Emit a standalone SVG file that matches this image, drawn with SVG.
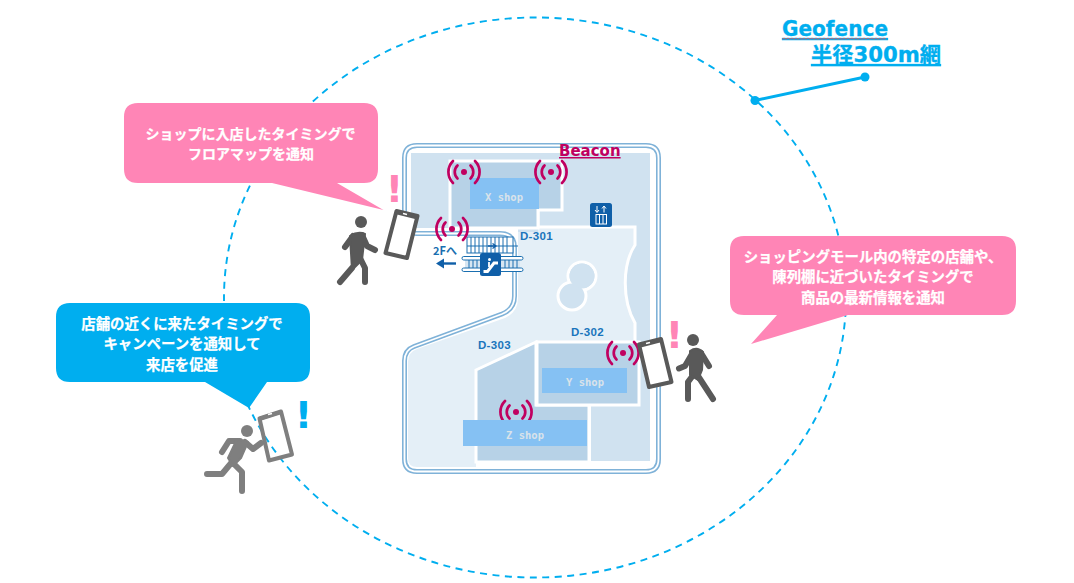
<svg xmlns="http://www.w3.org/2000/svg" width="1074" height="583" viewBox="0 0 1074 583">
  <style>
    .jp { font-family: "Noto Sans CJK JP", "Noto Sans", sans-serif; font-weight: 700; fill: #fff; stroke: #fff; stroke-width: .25px; font-size: 14px; text-anchor: middle; }
    .wide { font-size: 14.4px; }
    .pink { fill: #ff85b6; }
    .blue { fill: #00aeef; }
    .bang { font-family: "DejaVu Sans", sans-serif; font-weight: 700; font-size: 38px; text-anchor: middle; }
    .shopbox { fill: #85c1f3; }
    .shoptxt { font-family: "DejaVu Sans Mono", monospace; font-size: 10.5px; font-weight: 700; fill: #d9e3ea; text-anchor: middle; }
    .room { font-family: "Liberation Sans", sans-serif; font-size: 11.5px; font-weight: 700; fill: #1a75bc; letter-spacing: .3px; }
    .wall { fill: none; stroke: #fff; stroke-width: 3; }
    .bld { fill: #b7d2e7; stroke: #fff; stroke-width: 3; }
    .sig { fill: none; stroke: #c00060; stroke-width: 2.7; stroke-linecap: round; }
    .limb { fill: none; stroke-linecap: round; stroke-linejoin: round; stroke-width: 6; }
    .dark { stroke: #595959; }
    .grey { stroke: #7f7f7f; }
    .esc { fill: none; stroke: #1a6fb0; stroke-width: 1; }
    .icon { fill: #0f5fa8; }
    .outline { stroke-linejoin: round; }
  </style>
  <defs>
    <g id="signal">
      <circle r="3" fill="#c00060"/>
      <path class="sig" d="M-6.500-6.500A9 9 0 0 0-6.500 6.500M6.500-6.500A9 9 0 0 1 6.500 6.500"/>
      <path class="sig" d="M-11-11A15.500 15.500 0 0 0-11 11M11-11A15.500 15.500 0 0 1 11 11"/>
    </g>
    <path id="map-shape" d="M417 145.500H646Q658.500 145.500 658.500 158V459Q658.500 471.500 646 471.500H417Q404.500 471.500 404.500 459V361Q404.500 350 414 346.500L502 314Q514.500 309 514.500 296V248Q514.500 233.500 500 233.500H417Q404.500 233.500 404.500 221V158Q404.500 145.500 417 145.500Z"/>
  </defs>

  <g id="geofence-circle">
    <ellipse cx="535" cy="297.500" rx="311" ry="280" fill="none" stroke="#00aeef" stroke-width="1.900" stroke-dasharray="7 5.500"/>
  </g>

  <g id="floor-map">
    <use href="#map-shape" fill="#fff" stroke="#7fb2d8" stroke-width="5"/>
    <use href="#map-shape" fill="none" stroke="#fff" stroke-width="1.800"/>
    <path d="M411 153H650V461H518V228H411Z" fill="#d0e2f0"/>
    <path d="M538 227H635V245C622 265 622 300 635 323V342H536L476 370V467H417Q408 467 408 458V362Q408 352 417 349L505 318Q518 312 518 298V232H538Z" fill="#e4eff7"/>
    <path class="wall" d="M538 210V227H635V245C622 265 622 300 635 323V342"/>
    <path class="bld" d="M450 161H562V210H538V228H450Z"/>
    <path class="bld" d="M476 370L536 342V405H589V462H476Z"/>
    <rect class="bld" x="537" y="342" width="102" height="63"/>
    <path class="wall" d="M589.500 405V462M476 462.500H650"/>
    <circle cx="582" cy="276" r="14" fill="#d0e2f0" stroke="#fff" stroke-width="3"/>
    <circle cx="572" cy="296" r="14" fill="#d0e2f0" stroke="#fff" stroke-width="3"/>
    <circle cx="582" cy="276" r="12.500" fill="#d0e2f0"/>

    <g id="shop-x">
      <rect class="shopbox" x="470" y="178" width="69" height="31"/>
      <text class="shoptxt" x="504" y="200.500">X shop</text>
    </g>
    <g id="shop-y">
      <rect class="shopbox" x="542" y="368" width="85" height="25"/>
      <text class="shoptxt" x="585" y="386">Y shop</text>
    </g>
    <use href="#signal" x="516" y="412"/>
    <g id="shop-z">
      <rect class="shopbox" x="463" y="420" width="124" height="26"/>
      <text class="shoptxt" x="525" y="439">Z shop</text>
    </g>

    <text class="room" x="520" y="240">D-301</text>
    <text class="room" x="571" y="336">D-302</text>
    <text class="room" x="478" y="349">D-303</text>

    <g id="elevator">
      <rect class="icon" x="590" y="203" width="22" height="24" rx="2.500"/>
      <path d="M597 206V212M595 210L597 212.500L599 210M604 212.500V206.500M602 208.500L604 206L606 208.500" fill="none" stroke="#fff" stroke-width="1"/>
      <rect x="596" y="214.500" width="10.500" height="9.500" fill="none" stroke="#fff" stroke-width="1"/>
      <path d="M599.500 215V224M603 215V224" stroke="#fff" stroke-width="1"/>
    </g>

    <g id="escalator">
      <rect x="467" y="237" width="46" height="16" fill="#fff" stroke="#1a6fb0"/>
      <path class="esc" d="M471 237V253M475 237V253M479 237V253M483 237V253M487 237V253M491 237V253M495 237V253M499 237V253M503 237V253M507 237V253M467 246H518"/>
      <path d="M488 246H495M492.500 243.500L496 246L492.500 248.500" fill="none" stroke="#0f5fa8" stroke-width="1.300"/>
      <rect x="465" y="260" width="55" height="8" fill="#d7e6f2"/>
      <path class="esc" d="M469 260V268M473 260V268M477 260V268M505 260V268M509 260V268M513 260V268M517 260V268"/>
      <rect x="462" y="256.500" width="61" height="3.500" rx="1.700" fill="#fff" stroke="#1a6fb0"/>
      <rect x="462" y="268" width="61" height="3.500" rx="1.700" fill="#fff" stroke="#1a6fb0"/>
      <rect class="icon" x="480" y="253" width="21" height="23" rx="2.500"/>
      <path d="M483.500 271.500H487.500L494 263H498" fill="none" stroke="#fff" stroke-width="3"/>
      <circle cx="489.500" cy="259.500" r="1.500" fill="#fff"/>
      <path d="M489 262V267" stroke="#fff" stroke-width="1.800"/>
    </g>

    <g id="upstairs-sign">
      <text x="433" y="255" font-family="'Noto Sans CJK JP', sans-serif" font-size="11" font-weight="700" fill="#1a6fb0">2Fへ</text>
      <path d="M456 263.500H443" stroke="#0f5fa8" stroke-width="2.400"/>
      <path d="M436 263.500L444 258.500V268.500Z" fill="#0f5fa8"/>
    </g>

    <g id="beacons">
      <use href="#signal" x="464" y="172"/>
      <use href="#signal" x="551" y="172"/>
      <use href="#signal" x="452" y="229"/>
      <use href="#signal" x="623" y="353"/>
    </g>
    <text id="beacon-label" x="559" y="156" font-family="'DejaVu Sans', sans-serif" font-size="15" font-weight="700" fill="#c00060" text-decoration="underline">Beacon</text>
  </g>

  <g id="connectors">
    <line x1="755" y1="100.500" x2="865" y2="77" stroke="#00aeef" stroke-width="3"/>
    <circle cx="755" cy="100.500" r="4.500" fill="#00aeef"/>
    <circle cx="865" cy="77" r="4.500" fill="#00aeef"/>
  </g>

  <g id="geofence-label">
    <text x="782" y="36" font-family="'DejaVu Sans', sans-serif" font-size="20.500" font-weight="700" fill="#00aeef" stroke="#00aeef" stroke-width=".3" text-decoration="underline" textLength="106" lengthAdjust="spacingAndGlyphs">Geofence</text>
    <path d="M782 39.500l2 -1.500l2 1.500l2 -1.500l2 1.500l2 -1.500l2 1.500l2 -1.500l2 1.500l2 -1.500l2 1.500l2 -1.500l2 1.500l2 -1.500l2 1.500l2 -1.500l2 1.500l2 -1.500l2 1.500l2 -1.500l2 1.500l2 -1.500l2 1.500l2 -1.500l2 1.500l2 -1.500l2 1.500l2 -1.500l2 1.500l2 -1.500l2 1.500l2 -1.500l2 1.500l2 -1.500l2 1.500l2 -1.500l2 1.500l2 -1.500l2 1.500l2 -1.500l2 1.500l2 -1.500l2 1.500l2 -1.500l2 1.500l2 -1.500l2 1.500l2 -1.500l2 1.500l2 -1.500l2 1.500l2 -1.500l2 1.500" fill="none" stroke="#f05050" stroke-width=".8"/>
    <text x="811" y="62" font-family="'DejaVu Sans', 'Noto Sans CJK JP', sans-serif" font-size="21" font-weight="700" fill="#00aeef" stroke="#00aeef" stroke-width=".3" text-decoration="underline" textLength="130" lengthAdjust="spacingAndGlyphs">半径300m網</text>
  </g>

  <g id="bubble-floor-map">
    <path class="pink" d="M138 103H364Q378 103 378 117V169Q378 183 364 183H337L383.500 210L272 183H138Q124 183 124 169V117Q124 103 138 103Z"/>
    <text class="jp" x="250.500" y="139">ショップに入店したタイミングで</text>
    <text class="jp" x="251" y="159">フロアマップを通知</text>
  </g>

  <g id="bubble-campaign">
    <path class="blue" d="M70 303H296Q310 303 310 317V368Q310 382 296 382H267L249 408L205 382H70Q56 382 56 368V317Q56 303 70 303Z"/>
    <text class="jp wide" x="182" y="329">店舗の近くに来たタイミングで</text>
    <text class="jp wide" x="182" y="349">キャンペーンを通知して</text>
    <text class="jp wide" x="182" y="370">来店を促進</text>
  </g>

  <g id="bubble-product">
    <path class="pink" d="M744 236H1002Q1016 236 1016 250V301Q1016 315 1002 315H848L751 344L777 315H744Q730 315 730 301V250Q730 236 744 236Z"/>
    <text class="jp wide" x="873" y="262">ショッピングモール内の特定の店舗や、</text>
    <text class="jp wide" x="873" y="282">陳列棚に近づいたタイミングで</text>
    <text class="jp wide" x="873" y="303">商品の最新情報を通知</text>
  </g>

  <g id="visitor-entrance">
    <text class="bang pink" x="394.500" y="202">!</text>
    <path d="M396.500 211L417.500 216L407 258L385.500 253Z" fill="#fff" stroke="#595959" stroke-width="4" stroke-linejoin="round"/>
    <path d="M396 210L418 215.500L417 219.500L395 214Z" fill="#595959"/>
    <path d="M403 213.500L407 214.500" stroke="#fff" stroke-width="1.500"/>
    <circle cx="361" cy="222" r="6" fill="#595959"/>
    <path class="limb dark" d="M353 236L345 247M362 235L367 246L375 250M352 268L340 282M360 258L365 268L365 282"/>
    <path d="M350 236Q358 231 365 234L362 260L352 270Z" fill="#595959" stroke="#595959" stroke-width="2" stroke-linejoin="round"/>
  </g>

  <g id="visitor-shelf">
    <text class="bang pink" x="674.500" y="348">!</text>
    <path d="M639 344.500L661 339L671.500 382L649 387Z" fill="#fff" stroke="#595959" stroke-width="4" stroke-linejoin="round"/>
    <path d="M638 344L661 338L662 342L639 348Z" fill="#595959"/>
    <path d="M646 343.500L650 342.500" stroke="#fff" stroke-width="1.500"/>
    <circle cx="693" cy="340" r="6" fill="#595959"/>
    <path class="limb dark" d="M692 354L685 366L679 368.500M701 353L709 366M694 374L688 382V399M698 376L713 399"/>
    <path d="M690 351Q697 346 703 352L702 370L698 380L690 375Z" fill="#595959" stroke="#595959" stroke-width="2" stroke-linejoin="round"/>
  </g>

  <g id="visitor-nearby">
    <text class="bang blue" x="303.500" y="428">!</text>
    <path d="M259.500 418.500L281 411.500L292 454.500L269 460.500Z" fill="none" stroke="#7f7f7f" stroke-width="4" stroke-linejoin="round"/>
    <path d="M259 417L281 410L282 414L260 421Z" fill="#7f7f7f"/>
    <path d="M268 414.500L272 413.500" stroke="#fff" stroke-width="1.500"/>
    <circle cx="247" cy="431" r="6" fill="#7f7f7f"/>
    <path class="limb grey" d="M240 441H229L222 452M245 442L253 449L261 443M232 462L222 474H207M232 462L242 472V491"/>
    <path d="M237 439L248 442L241 458L233 466L228 458Z" fill="#7f7f7f" stroke="#7f7f7f" stroke-width="2" stroke-linejoin="round"/>
  </g>
</svg>
